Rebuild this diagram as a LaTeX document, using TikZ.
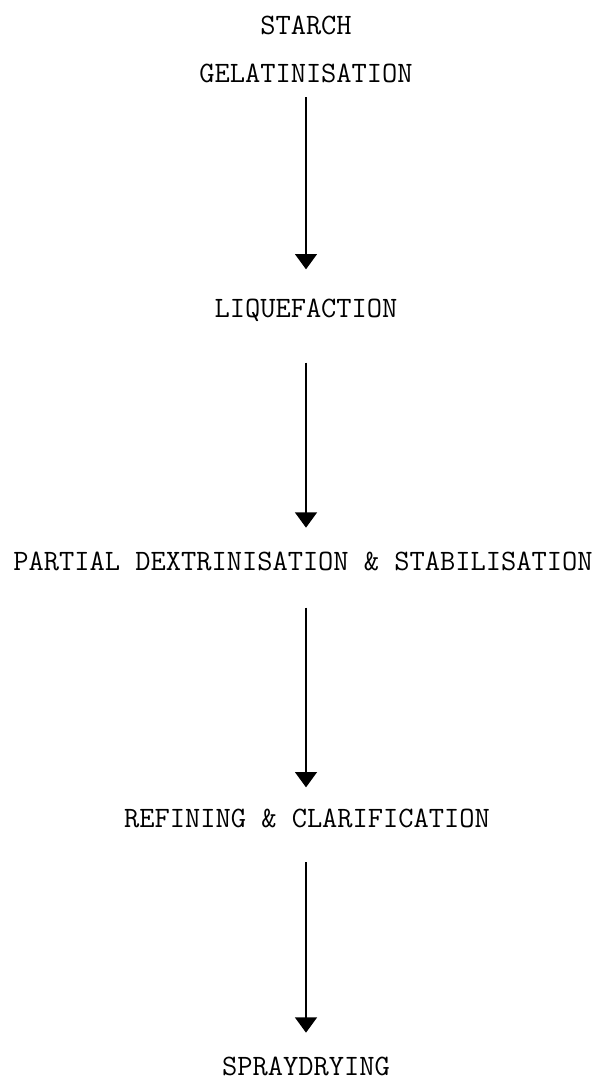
\documentclass[tikz,border=0pt]{standalone}
\usepackage{tikz}
\usetikzlibrary{arrows.meta,positioning}

\tikzset{
  stage/.style={font=\fontsize{22.2}{25}\selectfont\ttfamily, inner sep=0pt,
                text height=13.6pt, text depth=0pt},
  flow/.style={-{Triangle[width=16.5pt,length=11.5pt]}, line width=1.1pt}
}

\begin{document}
\begin{tikzpicture}[x=0.75pt,y=-0.75pt]
    \useasboundingbox (0,0) rectangle (606,1081);

    \node[stage] (starch) at (306,25)   {STARCH};
    \node[stage] (gel)    at (306,73)   {GELATINISATION};
    \node[stage] (liq)    at (306,308)  {LIQUEFACTION};
    \node[stage] (dex)    at (303,561)  {PARTIAL DEXTRINISATION \& STABILISATION};
    \node[stage] (ref)    at (307,818)  {REFINING \& CLARIFICATION};
    \node[stage] (spray)  at (306,1066) {SPRAYDRYING};

    \draw[flow, shorten <=11pt, shorten >=22pt] (gel.south -| 306,0)  -- (liq.north -| 306,0);
    \draw[flow, shorten <=34pt, shorten >=18pt] (liq.south -| 306,0)  -- (dex.north -| 306,0);
    \draw[flow, shorten <=28pt, shorten >=16pt] (dex.south -| 306,0)  -- (ref.north -| 306,0);
    \draw[flow, shorten <=26pt, shorten >=18pt] (ref.south -| 306,0)  -- (spray.north -| 306,0);

\end{tikzpicture}
\end{document}
